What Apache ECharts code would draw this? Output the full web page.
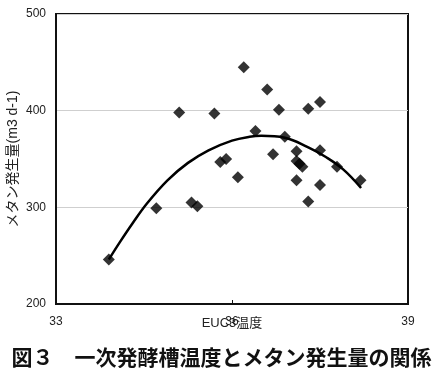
<!DOCTYPE html>
<html><head><meta charset="utf-8">
<script src="https://cdn.jsdelivr.net/npm/echarts@6/dist/echarts.min.js"></script>
<style>html,body{margin:0;padding:0;background:#fff}#c{width:443px;height:368px}</style>
</head><body><div id="c"></div>
<script>
// Scatter observations: temperature (°C) and methane production
const tempX = [33.9, 34.71, 35.1, 35.31, 35.41, 35.7, 35.8, 35.9, 36.1, 36.2, 36.4, 36.6, 36.7, 36.8, 36.9, 37.1, 37.1, 37.15, 37.2, 37.1, 37.3, 37.3, 37.5, 37.5, 37.5, 37.79, 38.19];
const methaneY = [246, 299, 398, 305, 301, 397, 347, 350, 331, 445, 379, 422, 355, 401, 373, 358, 348, 345, 342, 328, 402, 306, 409, 359, 323, 342, 328];
// Trend curve points
const trendX = [33.9, 34.1, 34.3, 34.55, 34.9, 35.25, 35.6, 36.0, 36.3, 36.5, 36.9, 37.3, 37.6, 37.9, 38.2];
const trendY = [246, 265, 283, 304, 328, 346, 359, 369, 373, 374, 372, 362, 352, 339, 320];
// Axis ticks
const xTicks = { min: 33, max: 39, step: 3 };
const yTicks = { min: 200, max: 500, step: 100 };
const xName = 'EUC3温度';
const yName = 'メタン発生量(m3 d-1)';
const caption = '図３　一次発酵槽温度とメタン発生量の関係';

const chart = echarts.init(document.getElementById('c'), null, {renderer: 'canvas'});
const latin = '"Liberation Sans", Arial, sans-serif';
const cjk = '"Liberation Sans", "Noto Sans CJK JP", sans-serif';
chart.setOption({
  animation: false,
  backgroundColor: '#fff',
  title: {
    text: caption, left: 'center', top: 342,
    textStyle: {fontSize: 21, fontWeight: 'bold', color: '#111', fontFamily: '"Noto Sans CJK JP", sans-serif'}
  },
  grid: {left: 56, right: 35, top: 14, bottom: 64, show: true, borderColor: '#111', borderWidth: 2, backgroundColor: 'transparent', containLabel: false, outerBoundsMode: 'none'},
  xAxis: {
    type: 'value', min: xTicks.min, max: xTicks.max, interval: xTicks.step,
    name: xName, nameLocation: 'middle', nameGap: 13, nameMoveOverlap: false,
    nameTextStyle: {fontSize: 13, color: '#222', fontFamily: cjk},
    axisLine: {show: true, lineStyle: {color: '#111', width: 2}},
    axisTick: {show: true, inside: true, length: 4, lineStyle: {color: '#111'}},
    axisLabel: {fontSize: 12, color: '#222', margin: 12, fontFamily: latin},
    splitLine: {show: false}
  },
  yAxis: {
    type: 'value', min: yTicks.min, max: yTicks.max, interval: yTicks.step,
    name: yName, nameLocation: 'middle', nameGap: 36, nameRotate: 90, nameMoveOverlap: false,
    nameTextStyle: {fontSize: 14, color: '#222', fontFamily: cjk},
    axisLine: {show: true, lineStyle: {color: '#111', width: 2}},
    axisTick: {show: false},
    axisLabel: {fontSize: 12, color: '#222', margin: 10, fontFamily: latin},
    splitLine: {show: true, lineStyle: {color: '#cfcfcf', width: 1}}
  },
  series: [
    {
      type: 'line', data: trendX.map((x, i) => [x, trendY[i]]),
      smooth: 0.4, showSymbol: false, symbol: 'none',
      lineStyle: {color: '#000', width: 2.5}, z: 2
    },
    {
      type: 'scatter', data: tempX.map((x, i) => [x, methaneY[i]]),
      symbol: 'diamond', symbolSize: 12,
      itemStyle: {color: '#000'}, z: 3
    }
  ]
});
</script></body></html>
